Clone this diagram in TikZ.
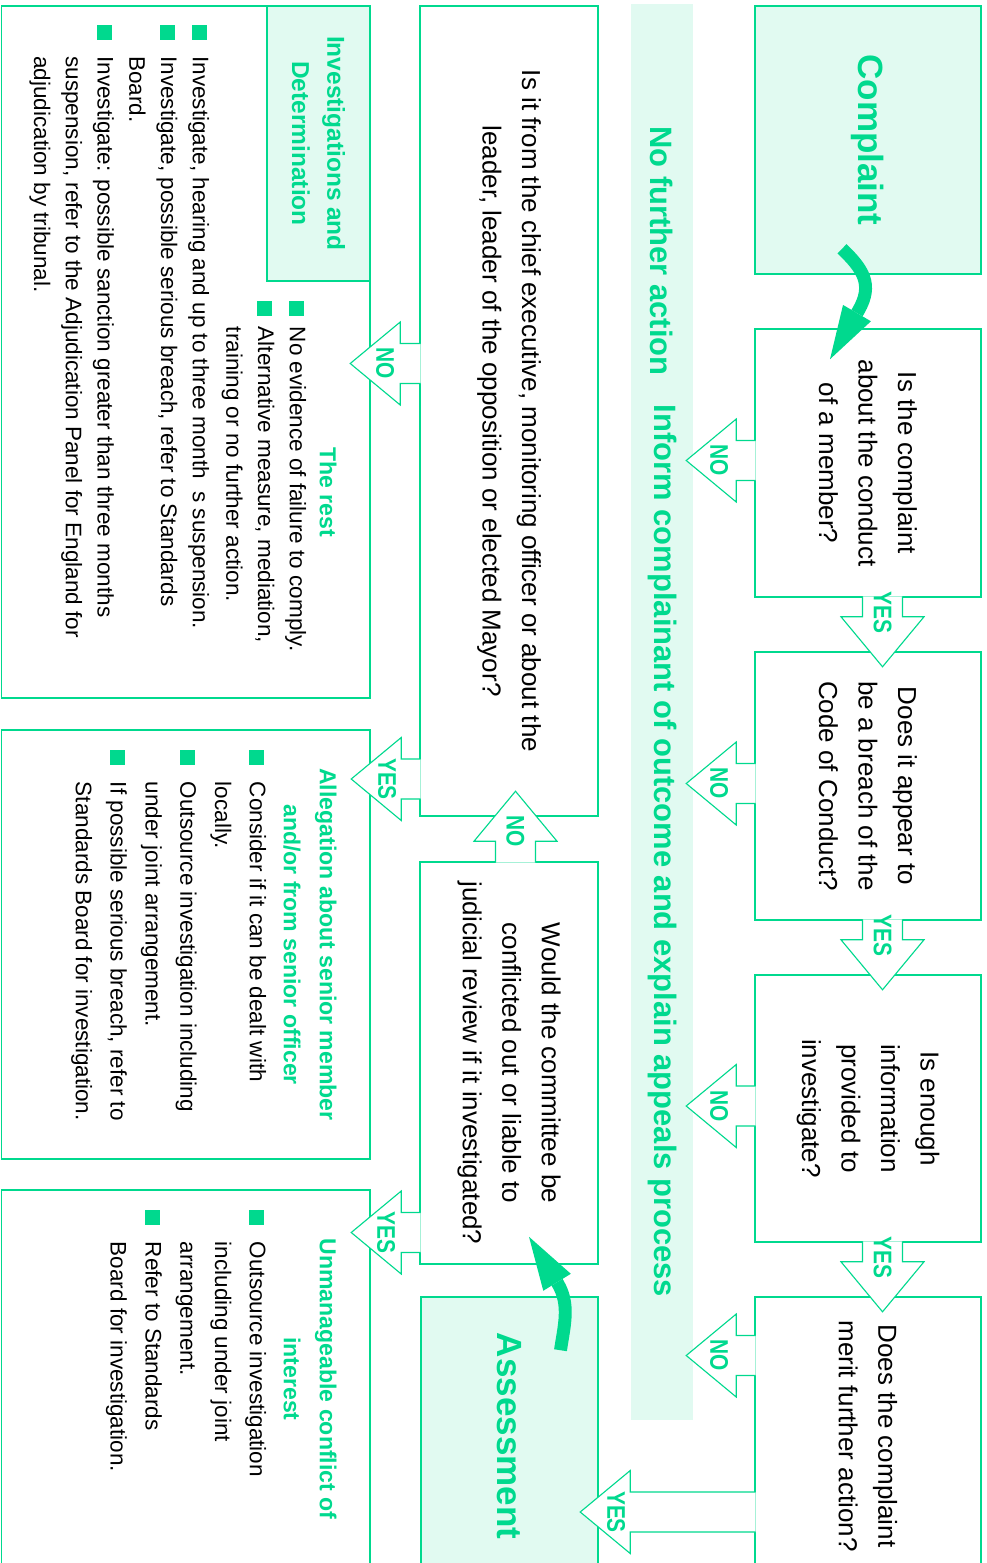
\documentclass[tikz,border=0pt]{standalone}
\usepackage{fontspec}
\setmainfont{Liberation Sans}
\newfontfamily\narrowsans[FakeStretch=0.82]{Liberation Sans}
\usetikzlibrary{arrows.meta,fit,calc}

\definecolor{dgreen}{HTML}{00D98E}
\definecolor{lgreen}{HTML}{E1FAF1}

\newdimen\pxu \pxu=0.7113pt
\newcommand{\bul}{\textcolor{dgreen}{\rule[-0.75\pxu]{15\pxu}{15\pxu}}}

\tikzset{
  qbox/.style={draw=dgreen, line width=1.1pt, fill=white, inner sep=0pt},
  stagebox/.style={draw=dgreen, line width=1.1pt, fill=lgreen, inner sep=0pt},
  band/.style={fill=lgreen, inner sep=0pt},
  qtext/.style={rotate=-90, align=center, inner sep=0pt, font=\fontsize{18.5}{28.1}\selectfont},
  stagetext/.style={rotate=-90, text=dgreen, font=\fontsize{24.9}{30}\selectfont\bfseries},
  bandtext/.style={rotate=-90, text=dgreen, font=\fontsize{22}{26}\selectfont\bfseries},
  headtext/.style={rotate=-90, align=center, text=dgreen, inner sep=0pt, font=\fontsize{16.4}{25.6}\selectfont\bfseries},
  listtext/.style={rotate=-90, anchor=north west, inner sep=0pt, font=\fontsize{16}{#1}\selectfont},
  listtext/.default=24.75,
  yesno/.style={rotate=-90, text=dgreen, inner sep=0pt, font=\narrowsans\bfseries\fontsize{18.1}{20}\selectfont},
  arrowline/.style={draw=dgreen, line width=0.8pt, fill=white},
  bigarrow/.style={draw=dgreen, line width=9.2pt, -{Triangle[length=38pt, width=23pt, line width=0pt]}},
  pics/blockarrow/.style args={#1/#2/#3}{code={
    \draw[arrowline] (-1.5,20) -- (#1,20) -- (#1,41.5) -- ({#1+50},0)
      -- (#1,-41.5) -- (#1,-20) -- (-1.5,-20);
    \node[yesno] (-label) at (#3,0) {#2};
  }}
}

\begin{document}
\begin{tikzpicture}[x=0.025cm, y=-0.025cm]
  \useasboundingbox (0,0) rectangle (986,1563);
  \clip (0,0) rectangle (986,1563);

  % outcome band
  \node[band, fit={(631,4) (693,1420)}] (band) {};
  \node[bandtext] (nfa) at (662,251) {No further action};
  \node[bandtext] (inform) at (662,851) {Inform complainant of outcome and explain appeals process};

  % assessment questions
  \node[stagebox, fit={(755,6) (981,274)}] (cpl) {};
  \node[stagetext] (cpltxt) at (cpl) {Complaint};
  \node[qbox, fit={(755,329) (981,597)}] (q1) {};
  \node[qtext] (q1txt) at (q1) {Is the complaint\\about the conduct\\of a member?};
  \node[qbox, fit={(755,652) (981,920)}] (q2) {};
  \node[qtext] (q2txt) at (q2) {Does it appear to\\be a breach of the\\Code of Conduct?};
  \node[qbox, fit={(755,975) (981,1242)}] (q3) {};
  \node[qtext] (q3txt) at (q3) {Is enough\\information\\provided to\\investigate?};
  \node[qbox, fit={(755,1297) (981,1575)}] (q4) {};
  \node[qtext] (q4txt) at (q4) {Does the complaint\\merit further action?};

  \node[qbox, fit={(420,6) (598,816)}] (chief) {};
  \node[qtext] (chieftxt) at (chief) {Is it from the chief executive, monitoring officer or about the\\leader, leader of the opposition or elected Mayor?};
  \node[qbox, fit={(420,862) (598,1264)}] (cmt) {};
  \node[qtext] (cmttxt) at (cmt) {Would the committee be\\conflicted out or liable to\\judicial review if it investigated?};
  \node[stagebox, fit={(421,1297) (598,1575)}] (asm) {};
  \node[stagetext] (asmtxt) at (asm) {Assessment};

  % outcomes
  \node[qbox, fit={(1.5,6) (370,698)}] (rest) {};
  \node[stagebox, fit={(267,6) (370,281)}] (invhead) {};
  \node[headtext, font=\fontsize{17.4}{25}\selectfont\bfseries] (invtxt) at (invhead) {Investigations and\\Determination};
  \node[headtext] (resthead) at (328,492) {The rest};
  \node[listtext=22.6] (restlist) at (312.5,301) {\begin{tabular}{@{}l@{\hspace{10.5\pxu}}l@{}}
    \bul & No evidence of failure to comply.\\
    \bul & Alternative measure, mediation,\\
         & training or no further action.
  \end{tabular}};
  \node[listtext=22.6] (invlist) at (215.5,25) {\begin{tabular}{@{}l@{\hspace{16\pxu}}l@{}}
    \bul & Investigate, hearing and up to three month\ \ s suspension.\\
    \bul & Investigate, possible serious breach, refer to Standards\\
         & Board.\\
    \bul & Investigate: possible sanction greater than three months\\
         & suspension, refer to the Adjudication Panel for England for\\
         & adjudication by tribunal.
  \end{tabular}};

  \node[qbox, fit={(1.5,730) (370,1159)}] (alleg) {};
  \node[headtext] (allegtxt) at (310,944.5) {Allegation about senior member\\and/or from senior officer};
  \node[listtext] (alleglist) at (274.6,750) {\begin{tabular}{@{}l@{\hspace{16.5\pxu}}l@{}}
    \bul & Consider if it can be dealt with\\
         & locally.\\
    \bul & Outsource investigation including\\
         & under joint arrangement.\\
    \bul & If possible serious breach, refer to\\
         & Standards Board for investigation.
  \end{tabular}};

  \node[qbox, fit={(1.5,1190) (370,1575)}] (coi) {};
  \node[headtext] (coitxt) at (310,1379) {Unmanageable conflict of\\interest};
  \node[listtext] (coilist) at (274.6,1210) {\begin{tabular}{@{}l@{\hspace{16.5\pxu}}l@{}}
    \bul & Outsource investigation\\
         & including under joint\\
         & arrangement.\\
    \bul & Refer to Standards\\
         & Board for investigation.
  \end{tabular}};

  % yes / no arrows
  \pic[rotate=180] (q1no) at (q1.west |- 0,460.5) {blockarrow=18/NO/35};
  \pic[rotate=-90] (q1yes) at (882.5,0 |- q1.south) {blockarrow=19/YES/15};
  \pic[rotate=180] (q2no) at (q2.west |- 0,783.5) {blockarrow=18/NO/35};
  \pic[rotate=-90] (q2yes) at (882.5,0 |- q2.south) {blockarrow=19/YES/15};
  \pic[rotate=180] (q3no) at (q3.west |- 0,1106) {blockarrow=18/NO/35};
  \pic[rotate=-90] (q3yes) at (882.5,0 |- q3.south) {blockarrow=19/YES/15};
  \pic[rotate=180] (q4no) at (q4.west |- 0,1355.5) {blockarrow=18/NO/35};
  \pic[rotate=180] (q4yes) at (q4.west |- 0,1512) {blockarrow=124/YES/138};
  \pic[rotate=180] (chiefno) at (chief.west |- 0,363.5) {blockarrow=19/NO/34};
  \pic[rotate=180] (chiefyes) at (chief.west |- 0,779) {blockarrow=18/YES/32};
  \pic[rotate=90] (cmtno) at (515.5,0 |- cmt.north) {blockarrow=20/NO/30};
  \pic[rotate=180] (cmtyes) at (cmt.west |- 0,1232.5) {blockarrow=18/YES/33};

  % start arrows
  \draw[bigarrow] ($(cpl.south)+(-26,-26)$) .. controls (863,269) and (873.5,284.5) .. (858.5,310.5) -- ($(q1.north)+(-38,31)$);
  \draw[bigarrow] ($(asm.north)+(51,54)$) .. controls (564,1326) and (570.5,1304.4) .. (557.5,1283) -- ($(cmt.south)+(20,-28)$);
\end{tikzpicture}
\end{document}
